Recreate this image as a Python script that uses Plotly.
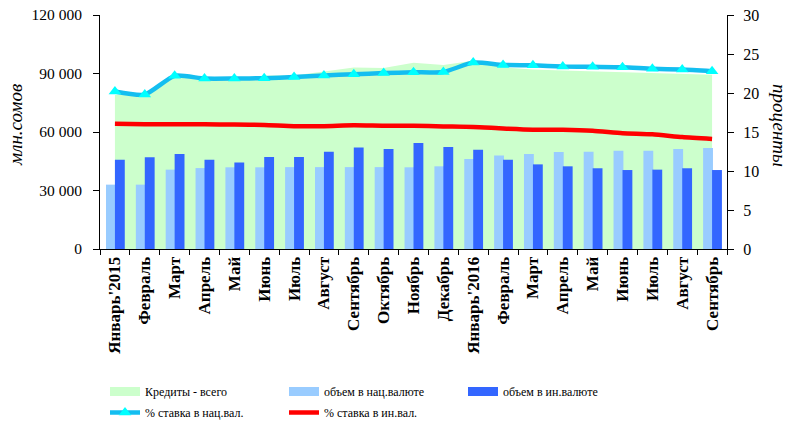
import plotly.graph_objects as go

months = ["Январь'2015", "Февраль", "Март", "Апрель", "Май", "Июнь", "Июль", "Август",
          "Сентябрь", "Октябрь", "Ноябрь", "Декабрь", "Январь'2016", "Февраль", "Март",
          "Апрель", "Май", "Июнь", "Июль", "Август", "Сентябрь"]

credits_total = [79000, 80000, 89000, 87500, 86500, 89000, 89000, 91100, 93100, 92800, 95500,
                 94300, 96500, 93100, 92000, 91600, 91100, 90700, 90200, 89700, 89400]
vol_national = [33000, 33000, 40700, 41500, 41900, 41900, 42000, 42000, 42000, 42000, 41900,
                42400, 46200, 48000, 48700, 49700, 49900, 50400, 50400, 51300, 51800]
vol_foreign = [45800, 47000, 48700, 45800, 44400, 47200, 47200, 49900, 52100, 51300, 54400,
               52300, 50900, 45800, 43400, 42400, 41400, 40500, 40700, 41400, 40500]
rate_national = [20.2, 19.8, 22.2, 21.85, 21.85, 21.9, 22.05, 22.25, 22.4, 22.55, 22.65,
                 22.7, 23.9, 23.6, 23.55, 23.4, 23.35, 23.3, 23.1, 23.0, 22.8]
rate_foreign = [16.05, 16.0, 16.0, 15.98, 15.95, 15.9, 15.75, 15.75, 15.85, 15.8, 15.8,
                15.72, 15.65, 15.45, 15.3, 15.28, 15.15, 14.85, 14.7, 14.35, 14.1]

left_ticks = [0, 30000, 60000, 90000, 120000]
left_ticktext = ["0", "30 000", "60 000", "90 000", "120 000"]
right_ticks = [0, 5, 10, 15, 20, 25, 30]

legend_names = ["Кредиты - всего", "объем в нац.валюте", "объем в ин.валюте",
                "% ставка в нац.вал.", "% ставка в ин.вал."]

C_AREA = "#CCFFCC"
C_NAT = "#99CCFF"
C_FOR = "#3366FF"
C_CYAN = "#14BEF0"
C_MARK = "#00FFFF"
C_RED = "#FF0000"

FONT = "Liberation Serif"
x = list(range(len(months)))

fig = go.Figure()

# area (base axis)
fig.add_trace(go.Scatter(x=x, y=credits_total, mode="lines", fill="tozeroy",
                         fillcolor=C_AREA, line=dict(width=0, color=C_AREA),
                         showlegend=False, hoverinfo="skip", xaxis="x", yaxis="y"))

# bars (overlay axis y2)
fig.add_trace(go.Bar(x=x, y=vol_national, marker=dict(color=C_NAT, line=dict(width=0)),
                     offset=-0.3, width=0.33, showlegend=False, xaxis="x", yaxis="y2"))
fig.add_trace(go.Bar(x=x, y=vol_foreign, marker=dict(color=C_FOR, line=dict(width=0)),
                     offset=0.0, width=0.33, showlegend=False, xaxis="x", yaxis="y2"))

# lines (right axis y3)
fig.add_trace(go.Scatter(x=x, y=rate_national, mode="lines+markers", name=legend_names[3],
                         line=dict(color=C_CYAN, width=4.5, shape="spline", smoothing=0.6),
                         marker=dict(symbol="triangle-up", size=11, color=C_MARK,
                                     line=dict(width=0)),
                         legend="legend2", legendrank=4, xaxis="x", yaxis="y3"))
fig.add_trace(go.Scatter(x=x, y=rate_foreign, mode="lines", name=legend_names[4],
                         line=dict(color=C_RED, width=4.5, shape="spline", smoothing=0.6),
                         legend="legend2", legendrank=5, xaxis="x", yaxis="y3"))

# legend entries for area and bars
for i, col in enumerate([C_AREA, C_NAT, C_FOR]):
    fig.add_trace(go.Scatter(x=[None], y=[None], mode="lines", name=legend_names[i],
                             line=dict(color=col, width=9), legendrank=i + 1,
                             legend="legend", xaxis="x", yaxis="y3"))

PLOT_L, PLOT_R, PLOT_T, PLOT_B = 100, 727, 15, 249
W, H = 792, 423
pw = PLOT_R - PLOT_L
ph = PLOT_B - PLOT_T

LEG_FONT = dict(family=FONT, size=12, color="black")
common_leg = dict(orientation="h", x=(105 - PLOT_L) / pw, xanchor="left",
                  yanchor="top", entrywidth=134, entrywidthmode="pixels",
                  font=LEG_FONT, bgcolor="rgba(0,0,0,0)", traceorder="normal",
                  itemsizing="trace")

fig.update_layout(
    width=W, height=H,
    margin=dict(l=PLOT_L, r=W - PLOT_R, t=PLOT_T, b=H - PLOT_B, autoexpand=False),
    paper_bgcolor="white", plot_bgcolor="white",
    barmode="overlay",
    font=dict(family=FONT, color="black", size=15),
    xaxis=dict(range=[-0.5, len(months) - 0.5], tickmode="array", tickvals=x,
               ticktext=months, tickangle=-90, ticks="", automargin=False,
               tickfont=dict(family=FONT, size=17, color="black", weight="bold"),
               showline=True, linecolor="black", linewidth=1, showgrid=False,
               zeroline=False,
               minor=dict(ticks="outside", ticklen=5, tickcolor="black", tickwidth=1,
                          tickmode="linear", tick0=-0.5, dtick=1, showgrid=False)),
    yaxis=dict(range=[0, 120000], tickmode="array", tickvals=left_ticks,
               ticktext=left_ticktext, ticks="outside", ticklen=6, tickcolor="black",
               showline=True, linecolor="black", showgrid=False, zeroline=False,
               automargin=False, ticklabelstandoff=8,
               tickfont=dict(family=FONT, size=15.5, color="black")),
    yaxis2=dict(range=[0, 120000], overlaying="y", visible=False, showgrid=False),
    yaxis3=dict(range=[0, 30], overlaying="y", side="right", tickmode="array",
                tickvals=right_ticks, ticks="outside", ticklen=6, tickcolor="black",
                showline=True, linecolor="black", showgrid=False, zeroline=False,
                automargin=False, ticklabelstandoff=6,
                tickfont=dict(family=FONT, size=16, color="black")),
    legend=dict(common_leg, y=(PLOT_B - 377) / ph),
    legend2=dict(common_leg, y=(PLOT_B - 398) / ph),
    annotations=[
        dict(text="млн.сомов", xref="paper", yref="paper",
             x=(15 - PLOT_L) / pw, y=(PLOT_B - 125) / ph, textangle=-90,
             showarrow=False, xanchor="center", yanchor="middle",
             font=dict(family=FONT, size=19, style="italic", color="black")),
        dict(text="проценты", xref="paper", yref="paper",
             x=(780 - PLOT_L) / pw, y=(PLOT_B - 125) / ph, textangle=90,
             showarrow=False, xanchor="center", yanchor="middle",
             font=dict(family=FONT, size=19, style="italic", color="black")),
    ],
)

fig.write_html("out.html", config={"displayModeBar": False},
               post_script="document.body.style.margin='0';")
